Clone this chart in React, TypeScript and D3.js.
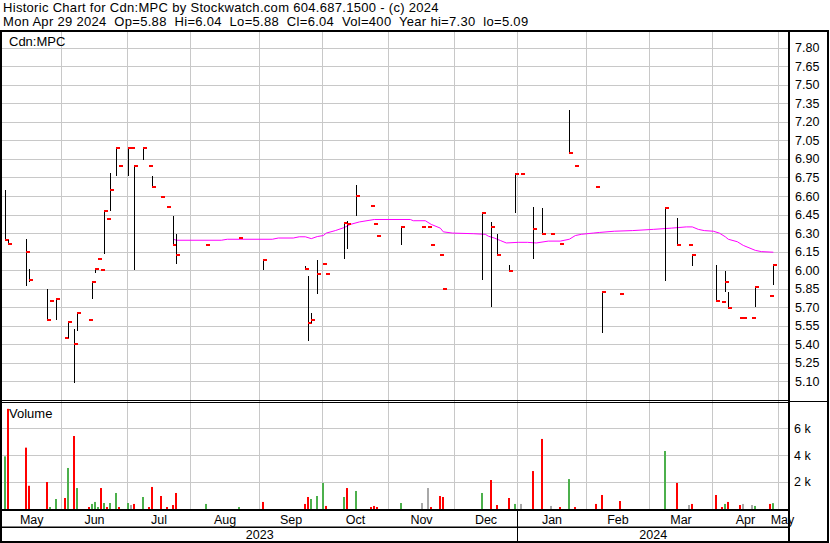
import React from 'react';
import * as d3 from 'd3';

// ---------- data ----------
const dates = [
  '2023-05-05','2023-05-08','2023-05-16','2023-05-17','2023-05-25','2023-05-26','2023-05-30',
  '2023-06-02','2023-06-05','2023-06-07','2023-06-08','2023-06-14','2023-06-15','2023-06-16',
  '2023-06-19','2023-06-20','2023-06-21','2023-06-22','2023-06-23','2023-06-27','2023-06-28',
  '2023-07-03','2023-07-04','2023-07-05','2023-07-10','2023-07-12','2023-07-13','2023-07-18',
  '2023-07-20','2023-07-24','2023-07-25','2023-08-08','2023-08-23','2023-09-04','2023-09-22',
  '2023-09-25','2023-09-26','2023-09-28','2023-10-02','2023-10-03','2023-10-11','2023-10-12',
  '2023-10-17','2023-10-24','2023-10-25','2023-10-26','2023-11-07','2023-11-16','2023-11-20',
  '2023-11-21','2023-11-24','2023-11-27','2023-12-14','2023-12-19','2023-12-21','2023-12-27',
  '2023-12-29','2024-01-02','2024-01-08','2024-01-11','2024-01-16','2024-01-19','2024-01-24',
  '2024-01-26','2024-02-06','2024-02-08','2024-02-16','2024-03-08','2024-03-14','2024-03-20',
  '2024-03-21','2024-04-02','2024-04-04','2024-04-05','2024-04-08','2024-04-12','2024-04-15',
  '2024-04-18','2024-04-19','2024-04-26','2024-04-29',
];
const highs = [
  6.65,6.24,6.25,6.01,5.85,5.75,5.77,
  5.45,5.58,5.52,5.65,5.60,5.90,6.02,
  6.09,6.00,6.48,6.41,6.79,6.99,6.84,
  6.99,6.99,6.84,7.00,6.84,6.76,6.59,
  6.51,6.44,6.29,6.20,6.26,6.08,6.03,
  5.95,5.65,6.08,6.05,5.97,6.38,6.40,
  6.69,6.52,6.37,6.28,6.36,6.36,6.35,
  6.20,6.12,5.85,6.47,6.39,6.29,6.04,
  6.78,6.78,6.51,6.50,6.29,6.21,7.30,
  6.84,6.67,5.82,5.81,6.50,6.42,6.20,
  6.12,6.04,5.74,5.99,5.82,5.61,5.61,
  5.61,5.87,5.79,6.04,
];
const lows = [
  6.24,6.21,5.87,5.90,5.60,5.75,5.60,
  5.45,5.45,5.09,5.51,5.60,5.77,5.98,
  6.09,6.00,6.13,6.41,6.48,6.76,6.84,
  6.76,6.99,6.00,6.89,6.84,6.67,6.59,
  6.51,6.20,6.05,6.20,6.26,6.00,6.01,
  5.43,5.57,5.81,6.05,5.97,6.09,6.17,
  6.44,6.52,6.37,6.28,6.20,6.35,6.35,
  6.20,6.12,5.85,5.92,5.70,6.12,5.99,
  6.46,6.78,6.09,6.29,6.29,6.21,6.95,
  6.84,6.67,5.49,5.81,5.91,6.20,6.20,
  6.03,5.75,5.74,5.82,5.69,5.61,5.61,
  5.61,5.70,5.79,5.88,
];
const closes = [
  6.24,6.21,6.15,5.92,5.60,5.75,5.77,
  5.45,5.58,5.40,5.65,5.60,5.90,6.01,
  6.09,6.00,6.48,6.41,6.65,6.99,6.84,
  6.99,6.99,6.84,6.99,6.84,6.67,6.59,
  6.51,6.20,6.12,6.20,6.26,6.08,6.01,
  5.57,5.60,5.97,6.05,5.97,6.38,6.37,
  6.60,6.52,6.37,6.28,6.35,6.35,6.35,
  6.20,6.12,5.85,6.46,6.35,6.12,5.99,
  6.78,6.78,6.33,6.29,6.29,6.21,6.95,
  6.84,6.67,5.82,5.81,6.50,6.20,6.20,
  6.12,5.75,5.74,5.90,5.69,5.61,5.61,
  5.61,5.86,5.79,6.04,
];
const volumes = [
  3900,7450,4550,1700,1980,110,710,
  785,3030,5420,1530,110,340,490,
  110,1530,410,110,410,1160,110,
  410,260,340,860,110,1610,935,
  110,260,1160,340,110,490,340,
  860,710,935,1910,190,860,1530,
  1310,110,190,110,410,410,1530,
  110,935,860,1160,2130,260,785,
  340,340,2800,5200,190,110,2200,
  110,340,1010,560,4300,1910,260,
  340,1010,110,340,490,260,340,
  260,190,340,400,
];

// moving average (magenta line)
const maDates = [
  '2023-07-24','2023-07-25','2023-08-15','2023-08-17','2023-09-07','2023-09-11','2023-09-18',
  '2023-09-20','2023-09-22','2023-09-26','2023-09-28','2023-10-02','2023-10-03','2023-10-06',
  '2023-10-11','2023-10-13','2023-10-18','2023-10-25','2023-11-10','2023-11-13','2023-11-17',
  '2023-11-21','2023-11-24','2023-11-27','2023-11-30','2023-12-11','2023-12-15','2023-12-18',
  '2023-12-20','2023-12-22','2023-12-26','2024-01-01','2024-01-04','2024-01-09','2024-01-15',
  '2024-01-19','2024-01-24','2024-01-26','2024-01-30','2024-02-05','2024-02-07','2024-02-14',
  '2024-02-22','2024-03-04','2024-03-12','2024-03-19','2024-03-21','2024-03-25','2024-03-27',
  '2024-04-01','2024-04-03','2024-04-05','2024-04-08','2024-04-11','2024-04-15','2024-04-19',
  '2024-04-23','2024-04-29',
];
const maValues = [
  6.25,6.242,6.242,6.25,6.25,6.26,6.26,
  6.27,6.27,6.255,6.272,6.28,6.30,6.32,
  6.345,6.37,6.39,6.41,6.41,6.40,6.40,
  6.37,6.34,6.31,6.30,6.295,6.29,6.275,
  6.26,6.24,6.22,6.225,6.225,6.22,6.235,
  6.235,6.25,6.28,6.29,6.30,6.305,6.315,
  6.32,6.33,6.34,6.35,6.35,6.33,6.32,
  6.315,6.30,6.27,6.25,6.23,6.20,6.16,
  6.15,6.145,
];

const priceTicks = [5.10,5.25,5.40,5.55,5.70,5.85,6.00,6.15,6.30,6.45,6.60,6.75,6.90,7.05,7.20,7.35,7.50,7.65,7.80];
const volumeTicks = [2000,4000,6000];
const volumeTickLabels = ['2 k','4 k','6 k'];
const monthStarts = ['2023-05-01','2023-06-01','2023-07-01','2023-08-01','2023-09-01','2023-10-01','2023-11-01','2023-12-01','2024-01-01','2024-02-01','2024-03-01','2024-04-01','2024-05-01'];
const monthLabels = ['May','Jun','Jul','Aug','Sep','Oct','Nov','Dec','Jan','Feb','Mar','Apr','May'];
const yearLabels = ['2023','2024'];

const titleLine1 = 'Historic Chart for Cdn:MPC by Stockwatch.com 604.687.1500 - (c) 2024';
const titleLine2 = 'Mon Apr 29 2024  Op=5.88  Hi=6.04  Lo=5.88  Cl=6.04  Vol=400  Year hi=7.30  lo=5.09';

// ---------- helpers ----------
const ORIGIN = Date.UTC(2023, 4, 1);
function weekdayIndex(s: string): number {
  const [y, m, d] = s.split('-').map(Number);
  const days = Math.round((Date.UTC(y, m - 1, d) - ORIGIN) / 864e5);
  const w = Math.floor(days / 7);
  const r = days % 7;
  return w * 5 + Math.min(r, 5);
}

const W = 830, H = 543;
const PL = 2, PR = 788;       // plot left / right
const TOP = 31;               // price panel top
const SEP = 400;              // price / volume separator
const VBOT = 509;             // volume bottom axis
const MROW = 526.5;           // month / year separator
const BOT = 541;

const FONT = '"Liberation Sans", Arial, Helvetica, sans-serif';
const GRID = '#c8c8c8';
const RED = '#ff0000';
const GREEN = '#4cb04c';
const GRAY = '#a8a8a8';

export default function App() {
  const x = d3.scaleLinear().domain([0, 262]).range([-6.7, 779.3]);
  const y = d3.scaleLinear().domain([5.10, 7.80]).range([381.3, 47.8]);
  const yv = d3.scaleLinear().domain([0, 8000]).range([508.5, 401.5]);

  const bars = dates.map((d, i) => ({
    bx: Math.round(x(weekdayIndex(d))),
    h: highs[i], l: lows[i], c: closes[i], v: volumes[i],
    color: i === 0 ? GREEN : closes[i] > closes[i - 1] ? GREEN : closes[i] < closes[i - 1] ? RED : GRAY,
  }));

  const grids = monthStarts.slice(1).map(m => Math.floor(x(weekdayIndex(m)) - 1) + 0.5);
  const bounds = [PL, ...grids];
  const monthCenters = monthLabels.map((_, i) =>
    i < monthLabels.length - 1 ? (bounds[i] + bounds[i + 1]) / 2 : bounds[i] + 4);
  const janX = grids[7];
  const yearCenters = [(PL + janX) / 2, (janX + 789) / 2];

  const ma = d3.line<[number, number]>()
    .x(p => p[0]).y(p => p[1])(maDates.map((d, i) => [x(weekdayIndex(d)), y(maValues[i])]));

  return (
    <svg width={W} height={H} style={{ position: 'absolute', left: 0, top: 0, background: '#fff' }}
      fontFamily={FONT}>
      <rect x={0} y={0} width={W} height={H} fill="#fff" />
      {/* header */}
      <text x={3} y={12} fontSize={13} letterSpacing={0.3} fill="#000">{titleLine1}</text>
      <text x={3} y={25.5} fontSize={13} letterSpacing={0.3} fill="#000" style={{ whiteSpace: 'pre' }}>{titleLine2}</text>

      {/* price grid */}
      {priceTicks.map(t => (
        <line key={'pg' + t} x1={PL} x2={PR} y1={Math.round(y(t)) + 0.5} y2={Math.round(y(t)) + 0.5} stroke={GRID} />
      ))}
      {volumeTicks.map(t => (
        <line key={'vg' + t} x1={PL} x2={PR} y1={Math.round(yv(t)) + 0.5} y2={Math.round(yv(t)) + 0.5} stroke={GRID} />
      ))}
      {grids.map((g, i) => (
        <g key={'mg' + i}>
          <line x1={g} x2={g} y1={TOP} y2={SEP} stroke={GRID} />
          <line x1={g} x2={g} y1={SEP} y2={VBOT} stroke={GRID} />
        </g>
      ))}

      {/* moving average */}
      <path d={ma || ''} fill="none" stroke="#ff00ff" strokeWidth={1} />

      {/* price bars */}
      {bars.map((b, i) => {
        const yh = Math.round(y(b.h));
        const yl = Math.round(y(b.l));
        const yc = Math.round(y(b.c));
        return (
          <g key={'b' + i}>
            {yl - yh >= 1 && <line x1={b.bx + 0.5} x2={b.bx + 0.5} y1={yh} y2={yl} stroke="#000" strokeWidth={1} />}
            <rect x={b.bx} y={yc - 1} width={4} height={2} fill={RED} />
          </g>
        );
      })}

      {/* volume bars */}
      {bars.map((b, i) => (
        <rect key={'v' + i} x={b.bx - 1} y={yv(b.v)} width={2} height={VBOT - yv(b.v)} fill={b.color} />
      ))}

      {/* labels inside panels */}
      <text x={9} y={46} fontSize={13} fill="#000">Cdn:MPC</text>
      <text x={9} y={418} fontSize={13} fill="#000">Volume</text>

      {/* frame */}
      <rect x={0} y={TOP - 1} width={W - 1} height={2} fill="#000" />
      <rect x={0} y={TOP} width={2} height={BOT + 2 - TOP} fill="#000" />
      <rect x={788} y={TOP} width={2} height={BOT + 2 - TOP} fill="#000" />
      <rect x={827} y={TOP} width={2} height={BOT + 2 - TOP} fill="#000" />
      <rect x={0} y={BOT} width={W - 1} height={2} fill="#000" />
      <line x1={PL} x2={PR} y1={SEP + 0.5} y2={SEP + 0.5} stroke="#000" />
      <line x1={PL} x2={PR} y1={SEP + 2.5} y2={SEP + 2.5} stroke="#000" />
      <line x1={790} x2={827} y1={SEP + 1.5} y2={SEP + 1.5} stroke="#000" />
      <rect x={0} y={VBOT} width={790} height={2} fill="#000" />
      <rect x={0} y={MROW} width={790} height={1.5} fill="#000" />
      <line x1={janX} x2={janX} y1={VBOT} y2={BOT} stroke="#000" />

      {/* price axis labels */}
      {priceTicks.map(t => (
        <text key={'pl' + t} x={795} y={y(t) + 4.5} fontSize={12.5} fill="#000">{t.toFixed(2)}</text>
      ))}
      {volumeTicks.map((t, i) => (
        <text key={'vl' + t} x={794} y={yv(t) + 4.5} fontSize={12.5} fill="#000">{volumeTickLabels[i]}</text>
      ))}

      {/* month & year labels */}
      {monthLabels.map((m, i) => (
        <text key={'ml' + i} x={monthCenters[i]} y={523.5} fontSize={12.5} textAnchor="middle" fill="#000">{m}</text>
      ))}
      {yearLabels.map((yl, i) => (
        <text key={'yl' + i} x={yearCenters[i]} y={539} fontSize={12.5} textAnchor="middle" fill="#000">{yl}</text>
      ))}
    </svg>
  );
}
